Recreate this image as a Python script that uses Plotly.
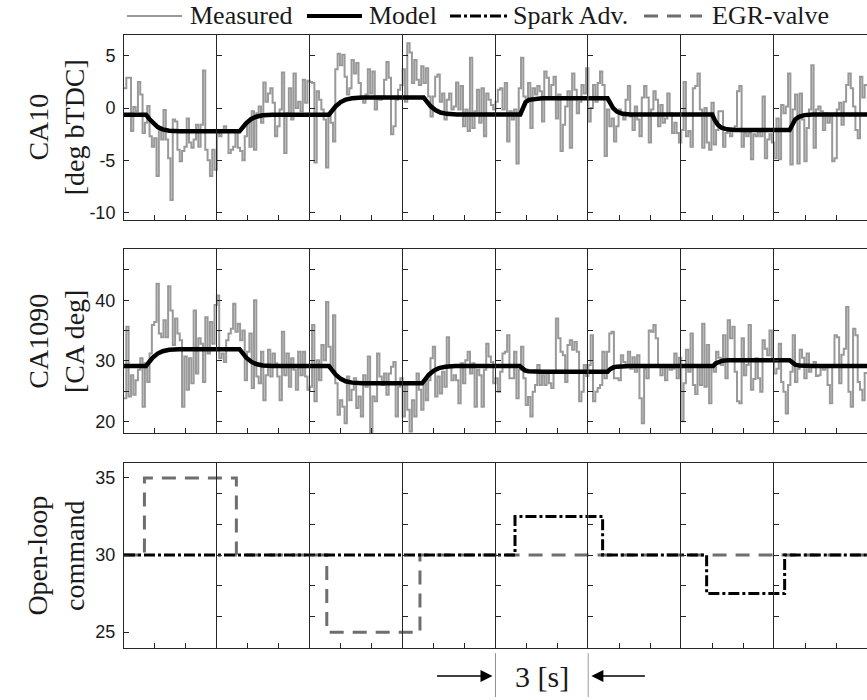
import plotly.graph_objects as go
from plotly.subplots import make_subplots

W, H = 867, 700
N_SEG = 8          # columns, one per 3 s window
SEG = 3.0          # seconds per column
DT = 0.075         # cycle-to-cycle sample time [s]

# Measured CA10 [deg bTDC], two lines per 3 s window
ca10_meas = [
    1.9, 2.9, 2.9, -2.2, 0.1, -0.3, 2.5, 1.3, -2.4, -1.4, 0.2, -2.7, -3.7, -2.9, -6.5, -2.1, -3.0, -0.2, -3.0, -4.8,
    -8.8, -1.1, -1.3, -4.0, -5.1, -4.1, -3.7, -1.0, -3.3, -3.8, -3.0, -1.6, -3.7, -1.6, 3.6, -4.0, -5.0, -6.5, -4.0, -5.9,
    -2.1, -2.7, -2.2, -1.75, -2.1, -4.3, -4.0, -3.7, -2.1, -3.8, -4.1, -5.0, -2.7, -1.4, -3.7, -0.3, -4.0, -0.5, 0.15, -1.4,
    2.45, 0.6, 1.4, 1.9, 0.5, -2.7, -1.75, -0.15, 3.4, -4.3, -0.5, 1.9, -1.1, 3.3, 0.0, 0.6, -0.3, 2.7, 0.5, 2.6,
    2.5, 2.4, -5.2, 1.6, 0.8, -0.15, -1.1, -5.7, -0.5, -1.4, -3.2, 3.7, 5.2, 4.1, 5.1, 3.0, 1.3, 1.9, 4.6, 3.3,
    4.3, 2.4, 1.0, 0.5, 1.3, 3.7, 1.4, 3.5, -0.15, 1.1, 0.8, 1.1, 2.7, 4.4, 2.9, -2.5, -1.75, 0.8, 1.75, 2.2,
    3.7, 0.6, 6.2, 5.3, 2.4, 4.6, 2.7, 2.2, 4.0, 2.4, 3.8, 1.1, -0.8, 1.1, 3.0, 3.2, 0.6, 1.4, -1.1, 0.8,
    1.4, -0.15, 0.15, 2.45, -0.15, 2.1, -1.75, -0.15, -2.2, 4.8, -1.9, -0.3, 1.75, -1.4, 1.9, -2.7, 1.4, 0.8, 0.3, -0.15,
    0.6, 1.75, 1.9, -0.15, 2.4, -3.2, -0.3, -1.1, -0.15, -5.3, 1.9, 4.8, 1.1, 0.6, 2.4, -1.9, 1.9, 1.3, 2.1, 1.6,
    -1.3, 3.5, 2.9, 1.0, 2.2, 3.0, -1.0, 1.3, -4.1, -1.6, 0.15, 1.6, -3.8, 3.3, 1.75, -0.5, 0.6, 2.2, 1.4, 3.8,
    -1.3, 0.0, 2.2, 0.6, 2.4, 3.5, 2.2, -4.6, -0.15, -1.75, -1.0, -3.2, -1.75, -0.15, -0.6, -1.1, 0.8, 2.1, -0.8, -2.1,
    0.15, -1.1, -2.7, 1.0, 2.1, 1.0, -3.3, -0.15, 1.6, 0.8, -1.75, 0.3, -1.4, -1.0, 1.4, -0.5, -2.4, -1.4, -2.4, -3.3,
    -2.1, 2.5, -2.7, -2.2, -3.7, 1.9, 2.1, 3.3, -0.15, -3.8, 0.0, -3.3, -4.0, 0.5, -3.5, -2.1, -0.3, -0.3, -3.7, -2.4,
    -2.2, -2.7, -2.1, -1.75, 1.6, 2.1, -3.7, -2.4, -2.7, -2.4, -4.9, -2.5, -2.7, -2.2, -2.7, 1.1, -4.8, -3.0, -2.5, -3.3,
    -4.8, -1.0, -4.9, 0.3, -0.5, 0.15, 3.3, -5.4, -0.15, 1.3, -5.3, 1.4, -1.1, -5.1, -1.9, -0.15, 4.1, -3.8, -0.15, 0.15,
    -0.3, -2.1, -0.5, -1.4, -0.6, -5.1, -4.8, -0.15, 0.5, -1.6, 0.6, 2.2, 3.3, 1.9, 0.15, -2.1, -2.9, 3.0, 1.0, 2.2,
]

# Measured CA1090 [CA deg]
ca1090_meas = [
    23.8, 35.6, 24.1, 27.6, 24.4, 26.8, 28.5, 30.4, 22.4, 29.6, 26.5, 31.2, 35.9, 36.4, 42.7, 34.5, 33.9, 36.7, 33.9, 42.3,
    38.3, 32.6, 37.0, 34.5, 33.4, 22.4, 30.7, 25.2, 30.4, 26.3, 38.3, 27.9, 33.7, 32.8, 26.5, 37.2, 31.2, 36.4, 32.8, 39.2,
    40.8, 30.4, 31.2, 29.8, 33.4, 34.5, 35.3, 39.4, 34.8, 36.1, 33.4, 35.0, 26.8, 31.5, 34.5, 25.5, 40.0, 27.4, 26.3, 31.5,
    23.5, 27.6, 31.8, 27.4, 31.2, 29.6, 27.4, 23.5, 34.8, 27.6, 31.2, 25.7, 30.4, 28.5, 25.2, 31.5, 27.6, 31.5, 27.4, 25.2,
    25.7, 35.9, 23.3, 30.1, 26.8, 32.6, 30.1, 39.7, 32.3, 29.0, 37.5, 26.3, 21.1, 23.5, 22.4, 19.7, 27.4, 23.5, 25.2, 27.1,
    22.2, 24.1, 20.8, 27.6, 25.7, 30.7, 18.2, 24.1, 23.3, 31.2, 27.4, 26.0, 27.9, 24.4, 27.9, 29.0, 29.8, 20.8, 25.7, 27.1,
    20.8, 26.3, 21.9, 18.3, 23.5, 20.8, 27.9, 25.2, 21.9, 26.8, 23.5, 26.8, 30.4, 32.3, 24.1, 27.4, 24.6, 28.2, 25.7, 33.9,
    29.0, 26.8, 27.6, 26.8, 23.0, 29.6, 26.3, 30.1, 31.5, 27.9, 29.6, 22.4, 28.5, 27.6, 22.4, 28.5, 32.8, 30.7, 29.8, 26.3,
    27.1, 24.9, 28.2, 31.2, 31.5, 34.2, 27.1, 27.1, 31.5, 23.8, 28.5, 32.3, 27.1, 22.7, 24.0, 20.8, 24.9, 26.0, 29.3, 26.0,
    27.6, 26.0, 27.9, 26.3, 25.5, 28.0, 37.0, 33.7, 31.5, 30.9, 26.5, 32.6, 33.4, 31.8, 33.1, 31.5, 23.3, 24.9, 29.3, 27.5,
    29.3, 34.2, 23.3, 24.9, 25.5, 26.0, 31.5, 27.1, 31.5, 34.5, 34.8, 27.1, 27.1, 26.8, 30.9, 29.8, 29.0, 31.5, 28.7, 30.6,
    28.2, 30.9, 23.8, 19.7, 28.7, 27.1, 35.0, 34.8, 35.9, 33.7, 29.3, 27.6, 29.0, 26.8, 29.3, 28.5, 28.7, 31.2, 27.1, 30.5,
    20.0, 26.3, 31.8, 28.2, 34.5, 26.0, 24.5, 29.3, 26.0, 36.1, 25.7, 32.6, 23.0, 29.3, 28.2, 31.5, 30.5, 29.3, 34.2, 27.1,
    36.7, 33.7, 35.6, 28.2, 23.3, 23.0, 33.7, 27.6, 29.3, 35.9, 25.2, 27.0, 30.4, 27.1, 24.9, 33.4, 32.0, 30.9, 35.0, 30.1,
    27.9, 28.7, 32.8, 26.5, 24.9, 21.3, 26.0, 28.2, 34.2, 26.5, 28.7, 31.8, 30.5, 27.1, 31.2, 28.2, 29.3, 29.8, 27.5, 27.6,
    29.3, 28.5, 29.3, 26.0, 23.0, 29.3, 34.2, 33.9, 26.3, 31.0, 32.0, 38.9, 24.9, 22.4, 35.3, 34.2, 26.5, 25.2, 23.5, 28.0,
]

# Model response, CA10 (breakpoints: time [s], value)
model_ca10_t = [0.0, 0.71, 0.82, 0.93, 1.09, 1.25, 1.46, 1.78,
                3.73, 3.84, 3.95, 4.11, 4.27, 4.48, 4.80,
                6.62, 6.73, 6.84, 7.00, 7.16, 7.37, 7.69,
                9.68, 9.79, 9.90, 10.06, 10.22, 10.43, 10.75,
                12.80, 12.88, 12.97, 13.08, 13.25, 13.50,
                15.62, 15.70, 15.80, 15.92, 16.10, 16.35,
                19.00, 19.08, 19.18, 19.30, 19.48, 19.75,
                21.50, 21.58, 21.68, 21.80, 21.98, 22.25, 24.0]
model_ca10_v = [-0.64, -0.64, -1.05, -1.43, -1.82, -2.04, -2.17, -2.23,
                -2.23, -1.82, -1.44, -1.05, -0.83, -0.70, -0.64,
                -0.64, -0.21, 0.18, 0.57, 0.80, 0.93, 1.00,
                1.00, 0.58, 0.19, -0.20, -0.43, -0.56, -0.62,
                -0.62, 0.05, 0.55, 0.78, 0.88, 0.93,
                0.93, 0.45, 0.00, -0.35, -0.55, -0.62,
                -0.62, -1.15, -1.60, -1.88, -2.04, -2.10,
                -2.10, -1.55, -1.10, -0.85, -0.68, -0.62, -0.62]

# Model response, CA1090
model_ca1090_t = [0.0, 0.71, 0.82, 0.93, 1.09, 1.25, 1.46, 1.78,
                  3.73, 3.84, 3.95, 4.11, 4.27, 4.48, 4.80,
                  6.62, 6.73, 6.84, 7.00, 7.16, 7.37, 7.69,
                  9.63, 9.74, 9.85, 10.01, 10.17, 10.38, 10.70,
                  12.78, 12.86, 12.95, 13.06, 13.25, 13.50,
                  15.62, 15.70, 15.80, 15.92, 16.10, 16.35,
                  19.03, 19.11, 19.21, 19.33, 19.51, 19.78,
                  21.50, 21.58, 21.68, 21.80, 21.98, 22.25, 24.0]
model_ca1090_v = [29.12, 29.12, 29.85, 30.52, 31.19, 31.58, 31.81, 31.92,
                  31.92, 31.19, 30.52, 29.85, 29.46, 29.23, 29.12,
                  29.12, 28.38, 27.70, 27.01, 26.61, 26.39, 26.27,
                  26.27, 27.01, 27.70, 28.38, 28.78, 29.00, 29.12,
                  29.12, 28.70, 28.42, 28.28, 28.21, 28.19,
                  28.19, 28.60, 28.90, 29.03, 29.10, 29.12,
                  29.12, 29.55, 29.85, 30.00, 30.07, 30.10,
                  30.10, 29.66, 29.37, 29.22, 29.15, 29.12, 29.12]

# Open-loop commands (step times [s] and levels)
egr_t = [0.0, 0.66, 3.63, 6.55, 9.56, 24.0]
egr_v = [30.0, 35.0, 30.0, 25.0, 30.0, 30.0]
spark_t = [0.0, 12.63, 15.46, 18.82, 21.34, 24.0]
spark_v = [30.0, 32.5, 30.0, 27.5, 30.0, 30.0]

# Axis settings per row
y_ranges = [[-10.67, 7.0], [18.05, 48.47], [23.96, 35.97]]
y_ticks_first = [[-10, -5, 0, 5], [20, 25, 30, 35, 40, 45], [25, 30, 35]]
y_labels_first = [["-10", "-5", "0", "5"], ["20", "", "30", "", "40", ""], ["25", "30", "35"]]
y_ticks_other = [[-10, -5, 0, 5], [20, 25, 30, 35, 40, 45], [26, 28, 30, 32, 34]]
row_titles = ["CA10<br>[deg bTDC]", "CA1090<br>[CA deg]", "Open-loop<br>command"]
row_px = [(35, 220.5), (250, 435), (465, 651)]   # top/bottom of each row in px

AX = "#262626"
GRAY_MEAS = "#999999"
GRAY_EGR = "#6e6e6e"
SERIF = "Liberation Serif"
SANS = "Liberation Sans"
SPARK_DASH = "11px,3px,3px,3px"
EGR_DASH = "14px,9px"

t_meas = [i * DT for i in range(len(ca10_meas))] + [N_SEG * SEG]
meas_series = [ca10_meas + ca10_meas[-1:], ca1090_meas + ca1090_meas[-1:]]
model_series = [(model_ca10_t, model_ca10_v), (model_ca1090_t, model_ca1090_v)]

fig = make_subplots(rows=3, cols=N_SEG, horizontal_spacing=0, vertical_spacing=0.02)

left = 124.0 / W
cw = (1.0 - left) / N_SEG

for r in range(3):
    y0 = 1 - row_px[r][1] / H
    y1 = 1 - row_px[r][0] / H
    for c in range(N_SEG):
        row, col = r + 1, c + 1
        if r < 2:
            fig.add_trace(go.Scatter(x=t_meas, y=meas_series[r], mode="lines", line_shape="hv",
                                     line=dict(color=GRAY_MEAS, width=2), showlegend=False,
                                     hoverinfo="skip"), row=row, col=col)
            mt, mv = model_series[r]
            fig.add_trace(go.Scatter(x=mt, y=mv, mode="lines",
                                     line=dict(color="black", width=4.5), showlegend=False,
                                     hoverinfo="skip"), row=row, col=col)
        else:
            fig.add_trace(go.Scatter(x=egr_t, y=egr_v, mode="lines", line_shape="hv",
                                     line=dict(color=GRAY_EGR, width=3, dash=EGR_DASH),
                                     showlegend=False, hoverinfo="skip"), row=row, col=col)
            fig.add_trace(go.Scatter(x=spark_t, y=spark_v, mode="lines", line_shape="hv",
                                     line=dict(color="black", width=3, dash=SPARK_DASH),
                                     showlegend=False, hoverinfo="skip"), row=row, col=col)

        fig.update_xaxes(row=row, col=col,
                         domain=[left + c * cw, left + (c + 1) * cw],
                         range=[c * SEG, (c + 1) * SEG],
                         tickvals=[c * SEG + 1, c * SEG + 2],
                         ticks="inside", ticklen=5, tickwidth=1, tickcolor=AX,
                         showticklabels=False, showgrid=False, zeroline=False,
                         showline=True, linecolor=AX, linewidth=1, mirror=True)
        first = c == 0
        fig.update_yaxes(row=row, col=col,
                         domain=[y0, y1],
                         range=y_ranges[r],
                         tickvals=y_ticks_first[r] if first else y_ticks_other[r],
                         ticktext=y_labels_first[r] if first else None,
                         showticklabels=first, ticklabelstandoff=4,
                         tickfont=dict(family=SANS, size=18, color="#1a1a1a"),
                         ticks="inside", ticklen=5, tickwidth=1, tickcolor=AX,
                         showgrid=False, zeroline=False,
                         showline=True, linecolor=AX, linewidth=1, mirror=False)

annotations = []
shapes = []

# Row titles
for r in range(3):
    yc = 1 - (row_px[r][0] + row_px[r][1]) / 2 / H
    annotations.append(dict(text=row_titles[r], x=56 / W, y=yc, xref="paper", yref="paper",
                            xanchor="center", yanchor="middle", textangle=-90, showarrow=False,
                            font=dict(family=SERIF, size=28, color="#1a1a1a")))

# Legend row
legend_items = [
    ("Measured", 127, 182, 188, dict(color=GRAY_MEAS, width=2)),
    ("Model", 307, 362, 367, dict(color="black", width=4)),
    ("Spark Adv.", 450, 508, 511, dict(color="black", width=3, dash=SPARK_DASH)),
    ("EGR-valve", 644, 702, 710, dict(color=GRAY_EGR, width=3, dash=EGR_DASH)),
]
ly = 1 - 16 / H
for name, xa, xb, xt, ln in legend_items:
    shapes.append(dict(type="line", xref="paper", yref="paper", x0=xa / W, x1=xb / W,
                       y0=ly, y1=ly, line=ln))
    annotations.append(dict(text=name, x=xt / W, y=ly, xref="paper", yref="paper",
                            xanchor="left", yanchor="middle", showarrow=False,
                            font=dict(family=SERIF, size=26, color="#1a1a1a")))

# 3 s window marker under the fifth column
for tx in (4 * SEG, 5 * SEG):
    shapes.append(dict(type="line", xref="x21", yref="paper", x0=tx, x1=tx,
                       y0=0.0, y1=1 - 656 / H, line=dict(color=AX, width=1)))
ay = 1 - 679 / H
annotations.append(dict(x=4 * SEG, y=ay, xref="x21", yref="paper", ax=-60, ay=0,
                        axref="pixel", ayref="pixel", text="", showarrow=True,
                        arrowhead=2, arrowsize=1.6, arrowwidth=1.5, arrowcolor="black", standoff=3))
annotations.append(dict(x=5 * SEG, y=ay, xref="x21", yref="paper", ax=58, ay=0,
                        axref="pixel", ayref="pixel", text="", showarrow=True,
                        arrowhead=2, arrowsize=1.6, arrowwidth=1.5, arrowcolor="black", standoff=3))
annotations.append(dict(text="3 [s]", x=4.5 * SEG, y=ay, xref="x21", yref="paper",
                        xanchor="center", yanchor="middle", showarrow=False,
                        font=dict(family=SERIF, size=30, color="#1a1a1a")))

fig.update_layout(width=W, height=H, margin=dict(l=0, r=0, t=0, b=0),
                  paper_bgcolor="white", plot_bgcolor="white",
                  showlegend=False, annotations=annotations, shapes=shapes)

fig.write_html("out.html")
